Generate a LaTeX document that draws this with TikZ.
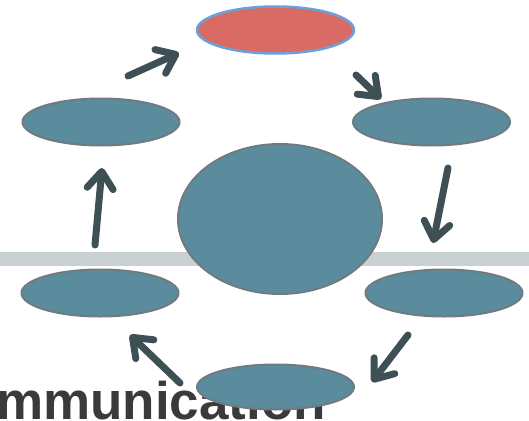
\documentclass[tikz,border=0pt]{standalone}
\usepackage{fontspec}
\setmainfont{Liberation Sans}
\usetikzlibrary{arrows.meta,shapes.geometric}
\definecolor{cellfill}{HTML}{5A8C9E}
\definecolor{cellline}{HTML}{6F7B80}
\definecolor{topfill}{HTML}{D96B64}
\definecolor{topline}{HTML}{6CA0D8}
\definecolor{arrowc}{HTML}{3E4F56}
\definecolor{bandc}{HTML}{C9D0D2}
\definecolor{textc}{HTML}{3A3A3A}
\begin{document}
\begin{tikzpicture}[x=1pt,y=-1pt,
  cell/.style={ellipse, draw=cellline, line width=2pt, fill=cellfill, inner sep=0pt,
    minimum width=157pt, minimum height=47pt},
  topcell/.style={cell, draw=topline, line width=2.5pt, fill=topfill},
  flow/.style={line width=7pt, draw=arrowc, line cap=round,
    -{Straight Barb[round,length=17pt,width=26pt]}}]
\useasboundingbox (0,0) rectangle (529,420);
\begin{scope}
\clip (0,0) rectangle (529,420);
\fill[bandc] (0,252) rectangle (529,266);
\node[anchor=base west, inner sep=0pt, text=textc,
  font=\fontsize{53}{53}\selectfont\bfseries] (label) at (-4,419) {mmunication};
\node[topcell] (top) at (275.5,30) {};
\node[cell] (lt) at (101,122) {};
\node[cell] (rt) at (431.5,122) {};
\node[cell, minimum width=204pt, minimum height=150pt] (mid) at (280,219) {};
\node[cell] (lb) at (100,293) {};
\node[cell] (rb) at (444,293) {};
\node[cell, minimum height=45pt] (bot) at (275.5,387) {};
\coordinate (a1s) at (128,76);  \coordinate (a1e) at (179,53);
\coordinate (a2s) at (356,75);  \coordinate (a2e) at (381,99);
\coordinate (a3s) at (448,168); \coordinate (a3e) at (433,243);
\coordinate (a4s) at (408,335); \coordinate (a4e) at (372,382);
\coordinate (a5s) at (180,383); \coordinate (a5e) at (130,335);
\coordinate (a6s) at (95,245);  \coordinate (a6e) at (102,168);
\draw[flow] (a1s) -- (a1e);
\draw[flow] (a2s) -- (a2e);
\draw[flow] (a3s) -- (a3e);
\draw[flow] (a4s) -- (a4e);
\draw[flow] (a5s) -- (a5e);
\draw[flow] (a6s) -- (a6e);
\end{scope}
\end{tikzpicture}
\end{document}
